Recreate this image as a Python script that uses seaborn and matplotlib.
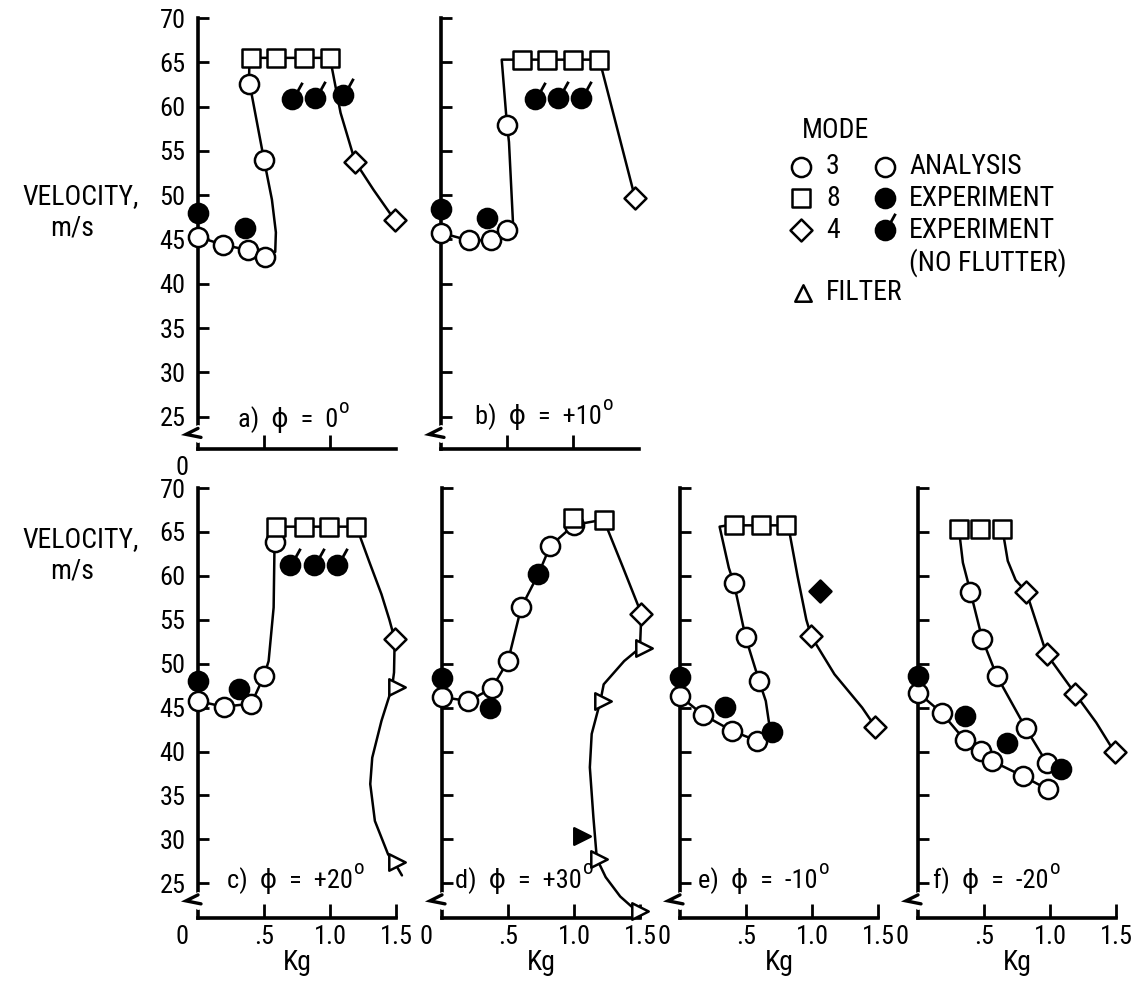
import matplotlib
matplotlib.use("Agg")
import matplotlib.pyplot as plt
import matplotlib.transforms as mtrans
from matplotlib.path import Path
from matplotlib.markers import MarkerStyle
from matplotlib import font_manager
import seaborn as sns

# ---------------- data ----------------
YTICKS = [25, 30, 35, 40, 45, 50, 55, 60, 65, 70]
YTICKLABELS = ["25", "30", "35", "40", "45", "50", "55", "60", "65", "70"]
XTICKS = [0.5, 1.0, 1.5]
XTICKLABELS = [".5", "1.0", "1.5"]
PANEL_TITLES = ["a)  \u03d5  =  0", "b)  \u03d5  =  +10", "c)  \u03d5  =  +20",
                "d)  \u03d5  =  +30", "e)  \u03d5  =  -10", "f)  \u03d5  =  -20"]
LEGEND_MODES = ["3", "8", "4"]
LEGEND_KINDS = ["ANALYSIS", "EXPERIMENT", "EXPERIMENT", "(NO FLUTTER)"]

# a) phi = 0
A_AN3_X = [0.0, 0.19, 0.38, 0.51, 0.50, 0.386]
A_AN3_Y = [45.3, 44.4, 43.8, 43.0, 54.0, 62.6]
A_AN8_X = [0.40, 0.59, 0.80, 1.00]
A_AN8_Y = [65.5, 65.5, 65.5, 65.5]
A_AN4_X = [1.19, 1.49]
A_AN4_Y = [53.8, 47.2]
A_EXP_X = [0.0, 0.356]
A_EXP_Y = [48.0, 46.3]
A_NF_X = [0.71, 0.89, 1.095]
A_NF_Y = [60.9, 61.0, 61.3]
A_C1_X = [0.0, 0.19, 0.38, 0.51, 0.585, 0.59, 0.56, 0.50, 0.40, 0.386, 0.39]
A_C1_Y = [45.3, 44.4, 43.8, 43.0, 43.6, 45.8, 49.5, 54.0, 61.9, 62.6, 65.5]
A_C2_X = [0.40, 0.59, 0.80, 1.00, 1.08, 1.19, 1.33, 1.49]
A_C2_Y = [65.5, 65.5, 65.5, 65.5, 59.3, 53.8, 50.6, 47.2]

# b) phi = +10
B_AN3_X = [0.0, 0.21, 0.38, 0.50, 0.50]
B_AN3_Y = [45.75, 44.9, 44.9, 46.05, 57.9]
B_AN8_X = [0.61, 0.80, 1.00, 1.20]
B_AN8_Y = [65.3, 65.3, 65.3, 65.3]
B_AN4_X = [1.47]
B_AN4_Y = [49.7]
B_EXP_X = [0.0, 0.347]
B_EXP_Y = [48.4, 47.4]
B_NF_X = [0.71, 0.887, 1.063]
B_NF_Y = [60.9, 61.0, 61.0]
B_C1_X = [0.0, 0.21, 0.38, 0.50, 0.545, 0.535, 0.515, 0.50, 0.46, 0.61]
B_C1_Y = [45.75, 44.9, 44.9, 46.05, 47.0, 50.0, 56.0, 57.9, 65.3, 65.3]
B_C2_X = [0.61, 0.80, 1.00, 1.20, 1.33, 1.47]
B_C2_Y = [65.3, 65.3, 65.3, 65.3, 57.8, 49.7]

# c) phi = +20
C_AN3_X = [0.0, 0.194, 0.404, 0.50, 0.58]
C_AN3_Y = [45.75, 45.1, 45.45, 48.6, 63.9]
C_AN8_X = [0.59, 0.80, 0.99, 1.20]
C_AN8_Y = [65.6, 65.6, 65.6, 65.6]
C_AN4_X = [1.49]
C_AN4_Y = [52.8]
C_EXP_X = [0.0, 0.313]
C_EXP_Y = [48.0, 47.1]
C_NF_X = [0.70, 0.88, 1.05]
C_NF_Y = [61.2, 61.2, 61.2]
C_FLT_X = [1.51, 1.51]
C_FLT_Y = [47.3, 27.4]
C_C1_X = [0.0, 0.194, 0.404, 0.50, 0.535, 0.573, 0.58, 0.59]
C_C1_Y = [45.75, 45.1, 45.45, 48.6, 50.3, 56.4, 63.9, 65.6]
C_C2_X = [0.59, 0.80, 0.99, 1.20, 1.30, 1.39, 1.45, 1.49, 1.485, 1.47, 1.39, 1.32,
          1.305, 1.34, 1.44, 1.495, 1.545]
C_C2_Y = [65.6, 65.6, 65.6, 65.6, 61.5, 57.9, 55.0, 52.8, 49.0, 47.3, 43.5, 39.3,
          36.3, 32.1, 28.3, 27.2, 25.9]

# d) phi = +30
D_AN3_X = [0.0, 0.2, 0.377, 0.5, 0.6, 0.82, 1.0]
D_AN3_Y = [46.2, 45.75, 47.2, 50.3, 56.4, 63.4, 65.8]
D_AN8_X = [0.99, 1.225]
D_AN8_Y = [66.6, 66.4]
D_AN4_X = [1.51]
D_AN4_Y = [55.7]
D_EXP_X = [0.0, 0.36, 0.73]
D_EXP_Y = [48.4, 44.9, 60.2]
D_FLT_X = [1.53, 1.22, 1.19, 1.50]
D_FLT_Y = [51.8, 45.75, 27.8, 21.8]
D_FEXP_X = [1.057]
D_FEXP_Y = [30.4]
D_C1_X = [0.0, 0.2, 0.377, 0.5, 0.6, 0.73, 0.82, 1.0, 1.225, 1.37, 1.51, 1.50,
          1.38, 1.225, 1.2, 1.134, 1.12, 1.147, 1.173, 1.24, 1.35, 1.47]
D_C1_Y = [46.2, 45.75, 47.2, 50.3, 56.4, 60.2, 63.4, 65.8, 66.4, 61.0, 55.7, 51.8,
          50.3, 47.65, 45.75, 42.0, 38.2, 32.5, 27.8, 25.7, 23.5, 21.9]

# e) phi = -10
E_AN3_X = [0.0, 0.173, 0.395, 0.587, 0.60, 0.497, 0.408]
E_AN3_Y = [46.3, 44.2, 42.35, 41.2, 48.0, 53.0, 59.2]
E_AN8_X = [0.408, 0.61, 0.80]
E_AN8_Y = [65.75, 65.75, 65.75]
E_AN4_X = [0.995, 1.48]
E_AN4_Y = [53.1, 42.8]
E_EXP_X = [0.0, 0.34, 0.70]
E_EXP_Y = [48.5, 45.1, 42.2]
E_EXP4_X = [1.06]
E_EXP4_Y = [58.3]
E_C1_X = [0.0, 0.173, 0.395, 0.587, 0.676, 0.65, 0.60, 0.497, 0.408, 0.37, 0.30, 0.36]
E_C1_Y = [46.3, 44.2, 42.35, 41.2, 43.1, 45.75, 48.0, 53.0, 59.2, 60.9, 65.6, 65.75]
E_C2_X = [0.408, 0.61, 0.80, 0.83, 0.89, 0.957, 0.995, 1.17, 1.38, 1.48]
E_C2_Y = [65.75, 65.75, 65.75, 64.9, 60.0, 55.0, 53.1, 48.8, 45.0, 42.8]

# f) phi = -20
F_AN3A_X = [0.0, 0.18, 0.354, 0.474, 0.564, 0.795, 0.982]
F_AN3A_Y = [46.7, 44.4, 41.3, 40.1, 38.9, 37.2, 35.7]
F_AN3B_X = [0.397, 0.487, 0.597, 0.815, 0.974]
F_AN3B_Y = [58.2, 52.8, 48.6, 42.7, 38.75]
F_AN8_X = [0.31, 0.47, 0.64]
F_AN8_Y = [65.3, 65.3, 65.3]
F_AN4_X = [0.82, 0.974, 1.19, 1.49]
F_AN4_Y = [58.2, 51.1, 46.6, 39.9]
F_EXP_X = [0.0, 0.359, 0.674, 1.085]
F_EXP_Y = [48.6, 44.1, 41.0, 38.0]
F_C1_X = F_AN3A_X
F_C1_Y = F_AN3A_Y
F_C2_X = [0.31, 0.34, 0.397, 0.487, 0.597, 0.815, 0.974]
F_C2_Y = [65.3, 61.5, 58.2, 52.8, 48.6, 42.7, 38.75]
F_C3_X = [0.64, 0.68, 0.74, 0.82, 0.974, 1.19, 1.35, 1.49]
F_C3_Y = [65.3, 61.7, 59.5, 58.2, 51.1, 46.6, 43.3, 39.9]

# ---------------- style ----------------
sns.set_theme(style="white")


def pick_font():
    fl = font_manager.fontManager.ttflist
    names = {f.name for f in fl}
    for n in ["Liberation Sans Narrow", "Roboto Condensed", "Open Sans Condensed",
              "Noto Sans Condensed", "DejaVu Sans Condensed", "Noto Sans Display Condensed"]:
        if n in names:
            return n, "normal", 1.0
    for n in ["Noto Sans", "Open Sans", "Roboto", "DejaVu Sans", "Inter", "Lato"]:
        for f in fl:
            if (f.name == n and f.style == "normal"
                    and str(f.stretch) in ("condensed", "semi-condensed", "extra-condensed")):
                return n, str(f.stretch), 1.0 if str(f.stretch) != "semi-condensed" else 0.93
    return "Liberation Sans", "normal", 0.84


FONT, STRETCH, FS = pick_font()
FAM = [FONT, "DejaVu Sans"]
plt.rcParams["font.family"] = FAM
plt.rcParams["font.stretch"] = STRETCH
plt.rcParams["text.color"] = "black"
plt.rcParams["axes.labelcolor"] = "black"
plt.rcParams["xtick.color"] = "black"
plt.rcParams["ytick.color"] = "black"

TICK_FS = 19 * FS
LAB_FS = 20 * FS
TITLE_FS = 19 * FS

W, H = 1132, 989
fig = plt.figure(figsize=(W / 100, H / 100), dpi=100)
fig.patch.set_facecolor("white")

S_CIRC = 190
S_SQ = 150
S_DIA = 125
S_TRI = 140
LW_MK = 1.8
LW_CURVE = 1.8
TICKMARK = MarkerStyle(Path([(0.55, 0.85), (1.05, 1.75)], [Path.MOVETO, Path.LINETO]))
S_TICK = S_CIRC * 3.06


def px_axes(left, bottom, top, width=198):
    return fig.add_axes([left / W, 1 - bottom / H, width / W, (bottom - top) / H])


def style(ax, ylim, ylabels, bottom_labels, zero_label):
    ax.set_facecolor("none")
    ax.set_xlim(0, 1.5)
    ax.set_ylim(*ylim)
    for s in ("top", "right"):
        ax.spines[s].set_visible(False)
    for s in ("left", "bottom"):
        ax.spines[s].set_color("black")
        ax.spines[s].set_linewidth(2.6)
    ax.set_yticks(YTICKS)
    ax.set_yticklabels(YTICKLABELS if ylabels else [])
    if bottom_labels:
        ax.set_xticks(XTICKS)
        ax.set_xticklabels(XTICKLABELS)
    else:
        ax.set_xticks(XTICKS[:2])
        ax.set_xticklabels([])
    ax.tick_params(axis="y", direction="in", length=8, width=2.0, pad=9,
                   labelsize=TICK_FS, colors="black", left=True)
    ax.tick_params(axis="x", direction="in", length=10, width=2.0, pad=5,
                   labelsize=TICK_FS, colors="black", bottom=True)
    if zero_label:
        tr = ax.get_xaxis_transform() + mtrans.ScaledTranslation(-16 / 100, -7 / 100, fig.dpi_scale_trans)
        ax.text(0, 0, "0", transform=tr, ha="center", va="top", fontsize=TICK_FS)
    # axis break mark on the left spine
    ax_h = ax.get_position().height * H
    dy = (ylim[1] - ylim[0]) / ax_h
    dx = 1 / 198
    yb = 23.0
    tr = ax.get_yaxis_transform()
    ax.plot([0, 0], [yb - 5 * dy, yb + 6 * dy], transform=tr, color="white", lw=5,
            clip_on=False, zorder=3)
    ax.plot([0, -12 * dx, 3 * dx], [yb + 6 * dy, yb, yb - 3 * dy], transform=tr,
            color="black", lw=2.4, clip_on=False, zorder=4, solid_joinstyle="miter")


def curve(ax, x, y):
    sns.lineplot(x=x, y=y, sort=False, estimator=None, color="black",
                 linewidth=LW_CURVE, ax=ax, clip_on=False, legend=False, zorder=2)


def mk(ax, x, y, marker, s, face):
    sns.scatterplot(x=x, y=y, marker=marker, s=s, color=face, edgecolor="black",
                    linewidth=LW_MK, ax=ax, zorder=5, clip_on=False, legend=False)


def nf(ax, x, y):
    mk(ax, x, y, "o", S_CIRC, "black")
    sns.scatterplot(x=x, y=y, marker=TICKMARK, s=S_TICK, color="black",
                    edgecolor="black", linewidth=2.0, ax=ax, zorder=5,
                    clip_on=False, legend=False)


def title(ax, txt, xf, yf):
    t = ax.text(xf, yf, txt, transform=ax.transAxes, fontsize=TITLE_FS, ha="left",
                va="baseline", zorder=6)
    ax.annotate("o", xy=(1, 1), xycoords=t, xytext=(1.0, -1.0), textcoords="offset points",
                fontsize=15 * FS, ha="left", va="center")


TOP_Y = (21.35, 70)
BOT_Y = (21.05, 70)

# ---- a ----
ax = px_axes(198, 449, 18)
style(ax, TOP_Y, True, False, True)
curve(ax, A_C1_X, A_C1_Y)
curve(ax, A_C2_X, A_C2_Y)
mk(ax, A_AN3_X, A_AN3_Y, "o", S_CIRC, "white")
mk(ax, A_AN8_X, A_AN8_Y, "s", S_SQ, "white")
mk(ax, A_AN4_X, A_AN4_Y, "D", S_DIA, "white")
mk(ax, A_EXP_X, A_EXP_Y, "o", S_CIRC, "black")
nf(ax, A_NF_X, A_NF_Y)
title(ax, PANEL_TITLES[0], 0.20, 0.052)

# ---- b ----
ax = px_axes(441, 449, 18)
style(ax, TOP_Y, False, False, False)
curve(ax, B_C1_X, B_C1_Y)
curve(ax, B_C2_X, B_C2_Y)
mk(ax, B_AN3_X, B_AN3_Y, "o", S_CIRC, "white")
mk(ax, B_AN8_X, B_AN8_Y, "s", S_SQ, "white")
mk(ax, B_AN4_X, B_AN4_Y, "D", S_DIA, "white")
mk(ax, B_EXP_X, B_EXP_Y, "o", S_CIRC, "black")
nf(ax, B_NF_X, B_NF_Y)
title(ax, PANEL_TITLES[1], 0.17, 0.058)

# ---- c ----
ax = px_axes(198, 918, 488)
style(ax, BOT_Y, True, True, True)
curve(ax, C_C1_X, C_C1_Y)
curve(ax, C_C2_X, C_C2_Y)
mk(ax, C_AN3_X, C_AN3_Y, "o", S_CIRC, "white")
mk(ax, C_AN8_X, C_AN8_Y, "s", S_SQ, "white")
mk(ax, C_AN4_X, C_AN4_Y, "D", S_DIA, "white")
mk(ax, C_FLT_X, C_FLT_Y, ">", S_TRI, "white")
mk(ax, C_EXP_X, C_EXP_Y, "o", S_CIRC, "black")
nf(ax, C_NF_X, C_NF_Y)
title(ax, PANEL_TITLES[2], 0.146, 0.07)
ax.set_xlabel("Kg", fontsize=LAB_FS, labelpad=0, color="black")

# ---- d ----
ax = px_axes(442, 918, 488)
style(ax, BOT_Y, False, True, True)
curve(ax, D_C1_X, D_C1_Y)
mk(ax, D_AN3_X, D_AN3_Y, "o", S_CIRC, "white")
mk(ax, D_AN8_X, D_AN8_Y, "s", S_SQ, "white")
mk(ax, D_AN4_X, D_AN4_Y, "D", S_DIA, "white")
mk(ax, D_FLT_X, D_FLT_Y, ">", S_TRI, "white")
mk(ax, D_FEXP_X, D_FEXP_Y, ">", S_TRI, "black")
mk(ax, D_EXP_X, D_EXP_Y, "o", S_CIRC, "black")
title(ax, PANEL_TITLES[3], 0.066, 0.07)
ax.set_xlabel("Kg", fontsize=LAB_FS, labelpad=0, color="black")

# ---- e ----
ax = px_axes(680, 918, 488)
style(ax, BOT_Y, False, True, True)
curve(ax, E_C1_X, E_C1_Y)
curve(ax, E_C2_X, E_C2_Y)
mk(ax, E_AN3_X, E_AN3_Y, "o", S_CIRC, "white")
mk(ax, E_AN8_X, E_AN8_Y, "s", S_SQ, "white")
mk(ax, E_AN4_X, E_AN4_Y, "D", S_DIA, "white")
mk(ax, E_EXP4_X, E_EXP4_Y, "D", S_DIA, "black")
mk(ax, E_EXP_X, E_EXP_Y, "o", S_CIRC, "black")
title(ax, PANEL_TITLES[4], 0.09, 0.07)
ax.set_xlabel("Kg", fontsize=LAB_FS, labelpad=0, color="black")

# ---- f ----
ax = px_axes(918, 918, 488)
style(ax, BOT_Y, False, True, True)
curve(ax, F_C1_X, F_C1_Y)
curve(ax, F_C2_X, F_C2_Y)
curve(ax, F_C3_X, F_C3_Y)
mk(ax, F_AN3A_X, F_AN3A_Y, "o", S_CIRC, "white")
mk(ax, F_AN3B_X, F_AN3B_Y, "o", S_CIRC, "white")
mk(ax, F_AN8_X, F_AN8_Y, "s", S_SQ, "white")
mk(ax, F_AN4_X, F_AN4_Y, "D", S_DIA, "white")
mk(ax, F_EXP_X, F_EXP_Y, "o", S_CIRC, "black")
title(ax, PANEL_TITLES[5], 0.076, 0.07)
ax.set_xlabel("Kg", fontsize=LAB_FS, labelpad=0, color="black")

# ---- y axis titles ----
for yc in (197, 540):
    fig.text(81 / W, 1 - yc / H, "VELOCITY,", ha="center", va="center", fontsize=LAB_FS)
    fig.text(72 / W, 1 - (yc + 31) / H, "m/s", ha="center", va="center", fontsize=LAB_FS)

# ---- legend (figure-pixel overlay) ----
lax = fig.add_axes([0, 0, 1, 1])
lax.set_xlim(0, W)
lax.set_ylim(H, 0)
lax.axis("off")
lax.set_facecolor("none")
lax.text(802, 131, "MODE", ha="left", va="center", fontsize=LAB_FS)
rows_y = [167, 198, 230]
for yy, mkr, s, lab in zip(rows_y, ["o", "s", "D"], [S_CIRC, S_SQ, S_DIA], LEGEND_MODES):
    mk(lax, [801], [yy], mkr, s, "white")
    lax.text(826, yy, lab, ha="left", va="center", fontsize=LAB_FS)
mk(lax, [885], [167], "o", S_CIRC, "white")
mk(lax, [885], [198], "o", S_CIRC, "black")
nf(lax, [885], [230])
for yy, lab in zip([167, 198, 230, 263], LEGEND_KINDS):
    lax.text(909, yy, lab, ha="left", va="center", fontsize=LAB_FS)
mk(lax, [803], [293], "^", S_TRI, "white")
lax.text(826, 293, "FILTER", ha="left", va="center", fontsize=LAB_FS)

fig.savefig("out.png", dpi=100)
